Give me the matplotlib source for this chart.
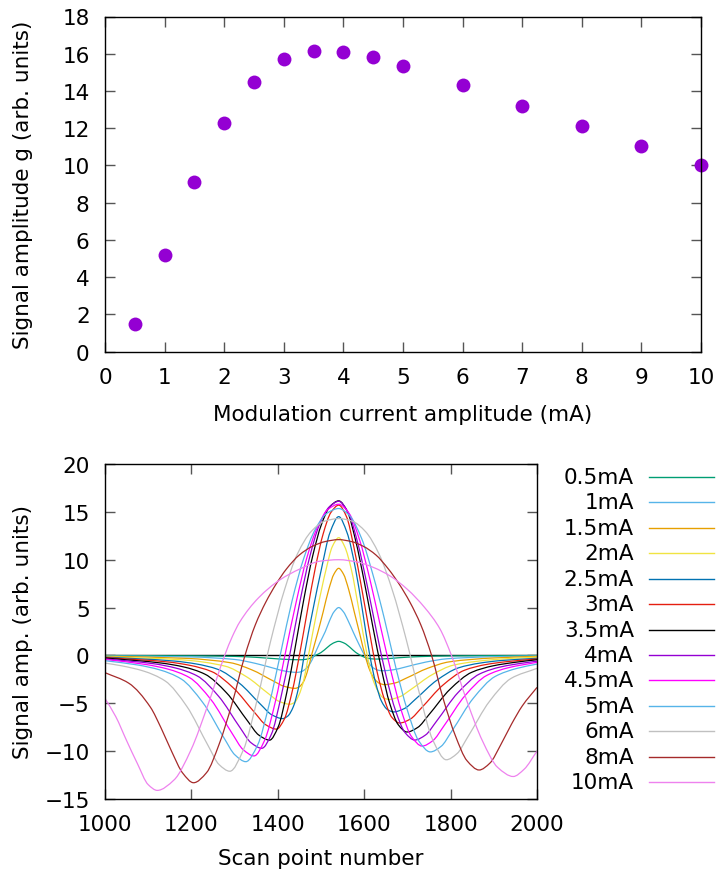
import matplotlib
matplotlib.use("Agg")
import matplotlib.pyplot as plt
from matplotlib.lines import Line2D
from matplotlib.path import Path
from matplotlib.patches import PathPatch

plt.rcParams['font.family'] = ['DejaVu Sans']

# ---------------- top panel data ----------------
mod_current = [0.5, 1, 1.5, 2, 2.5, 3, 3.5, 4, 4.5, 5, 6, 7, 8, 9, 10]
signal_g = [1.47, 5.2, 9.1, 12.3, 14.5, 15.7, 16.15, 16.1, 15.8, 15.35, 14.3, 13.2, 12.1, 11.05, 10.0]

# ---------------- bottom panel data ----------------
labels = ['0.5mA', '1mA', '1.5mA', '2mA', '2.5mA', '3mA', '3.5mA', '4mA',
          '4.5mA', '5mA', '6mA', '8mA', '10mA']
colors = ['#009e73', '#56b4e9', '#e69f00', '#f0e442', '#0072b2', '#e51e10',
          '#000000', '#9400d3', '#ff00ff', '#56b4e9', '#c0c0c0', '#a52a2a', '#ee82ee']

x_05 = [1000, 1200, 1300, 1350, 1400, 1430, 1453, 1461, 1470, 1478, 1487, 1500, 1515, 1528, 1541,
        1554, 1567, 1580, 1592, 1601, 1610, 1619, 1628, 1655, 1680, 1730, 1800, 1900, 2000]
y_05 = [-0.01, -0.04, -0.10, -0.20, -0.36, -0.43, -0.45, -0.43, -0.36, -0.23, 0.0, 0.30, 0.85, 1.28, 1.47,
        1.28, 0.85, 0.33, 0.0, -0.19, -0.31, -0.36, -0.38, -0.33, -0.24, -0.12, -0.05, -0.02, -0.01]

x_1 = [1000, 1200, 1300, 1350, 1394, 1419, 1444, 1454, 1464, 1474, 1484, 1497, 1510, 1520, 1530, 1541,
       1552, 1562, 1574, 1588, 1601, 1611, 1621, 1632, 1642, 1667, 1692, 1742, 1792, 1892, 2000]
y_1 = [-0.05, -0.16, -0.42, -0.85, -1.38, -1.66, -1.77, -1.70, -1.43, -0.90, 0.0, 1.30, 2.50, 3.65, 4.55, 5.0,
       4.55, 3.70, 2.50, 1.15, 0.0, -0.82, -1.30, -1.54, -1.60, -1.50, -1.25, -0.70, -0.35, -0.14, -0.05]

x_15 = [1000, 1190, 1290, 1340, 1390, 1415, 1440, 1449, 1459, 1468, 1478, 1492, 1505, 1518, 1530, 1541,
        1552, 1564, 1577, 1590, 1602, 1613, 1624, 1636, 1647, 1672, 1697, 1747, 1797, 1897, 2000]
y_15 = [-0.08, -0.31, -0.76, -1.51, -2.68, -3.23, -3.44, -3.30, -2.79, -1.75, 0.0, 2.30, 4.55, 6.90, 8.50, 9.10,
        8.50, 6.90, 4.55, 2.20, 0.0, -1.56, -2.47, -2.93, -3.05, -2.87, -2.38, -1.34, -0.67, -0.27, -0.10]

x_2 = [1000, 1178, 1278, 1328, 1378, 1403, 1428, 1439, 1449, 1460, 1471, 1491, 1512, 1526, 1541,
       1555, 1570, 1588, 1607, 1619, 1632, 1644, 1657, 1682, 1707, 1757, 1807, 1907, 2000]
y_2 = [-0.13, -0.46, -1.12, -2.24, -3.98, -4.80, -5.10, -4.90, -4.13, -2.60, 0.0, 4.70, 9.03, 11.35, 12.3,
       11.35, 9.03, 4.70, 0.0, -2.35, -3.73, -4.42, -4.60, -4.32, -3.59, -2.02, -1.01, -0.41, -0.17]

x_25 = [1000, 1161, 1211, 1261, 1311, 1361, 1386, 1411, 1423, 1436, 1448, 1461, 1481, 1501, 1521, 1541,
        1560, 1580, 1596, 1613, 1627, 1640, 1654, 1668, 1693, 1718, 1768, 1818, 1868, 1918, 2000]
y_25 = [-0.17, -0.59, -0.89, -1.45, -2.90, -5.15, -6.20, -6.60, -6.34, -5.35, -3.37, 0.0, 4.70, 9.03, 12.86, 14.5,
        12.86, 9.03, 4.70, 0.0, -2.95, -4.78, -5.66, -5.90, -5.55, -4.60, -2.60, -1.30, -0.80, -0.53, -0.30]

x_3 = [1000, 1147, 1197, 1247, 1297, 1347, 1372, 1397, 1415, 1433, 1451, 1469, 1487, 1505, 1523, 1541,
       1559, 1576, 1594, 1612, 1629, 1647, 1664, 1682, 1707, 1732, 1782, 1832, 1882, 1932, 2000]
y_3 = [-0.22, -0.69, -1.04, -1.69, -3.39, -6.00, -7.24, -7.70, -6.66, -3.83, 0.25, 4.82, 9.18, 12.70, 14.94, 15.7,
       14.50, 11.35, 7.06, 2.52, -1.55, -4.62, -6.47, -7.06, -6.64, -5.51, -3.11, -1.55, -0.95, -0.64, -0.37]

x_35 = [1000, 1131, 1181, 1231, 1281, 1331, 1356, 1381, 1401, 1421, 1441, 1461, 1481, 1501, 1521, 1541,
        1561, 1580, 1600, 1620, 1640, 1659, 1679, 1699, 1724, 1749, 1799, 1849, 1899, 1949, 2000]
y_35 = [-0.27, -0.80, -1.19, -1.95, -3.89, -6.90, -8.32, -8.85, -7.45, -3.83, 1.03, 6.05, 10.44, 13.68, 15.57, 16.15,
        15.04, 12.03, 7.75, 3.00, -1.46, -5.00, -7.25, -8.00, -7.52, -6.24, -3.52, -1.76, -1.08, -0.72, -0.45]

x_4 = [1000, 1113, 1163, 1213, 1263, 1313, 1338, 1363, 1385, 1407, 1430, 1452, 1474, 1496, 1519, 1541,
       1563, 1585, 1607, 1629, 1651, 1673, 1695, 1717, 1742, 1767, 1817, 1867, 1917, 1967, 2000]
y_4 = [-0.36, -0.87, -1.31, -2.13, -4.27, -7.57, -9.12, -9.70, -8.25, -4.42, 0.62, 5.81, 10.32, 13.62, 15.51, 16.1,
       14.93, 11.76, 7.30, 2.38, -2.20, -5.82, -8.09, -8.84, -8.31, -6.90, -3.89, -1.94, -1.19, -0.80, -0.60]

x_45 = [1000, 1095, 1145, 1195, 1245, 1295, 1320, 1345, 1369, 1394, 1418, 1443, 1467, 1492, 1516, 1541,
        1565, 1589, 1613, 1637, 1662, 1686, 1710, 1734, 1759, 1784, 1834, 1884, 1934, 2000]
y_45 = [-0.42, -0.95, -1.42, -2.30, -4.60, -8.20, -9.85, -10.5, -8.92, -4.90, 0.35, 5.67, 10.17, 13.42, 15.25, 15.8,
        14.84, 12.11, 7.99, 3.17, -1.66, -5.78, -8.51, -9.47, -8.90, -7.40, -4.17, -2.08, -1.28, -0.72]

x_5 = [1000, 1076, 1126, 1176, 1226, 1276, 1301, 1326, 1353, 1380, 1407, 1433, 1460, 1487, 1514, 1541,
       1567, 1594, 1620, 1647, 1673, 1700, 1726, 1753, 1778, 1803, 1853, 1903, 1953, 2000]
y_5 = [-0.55, -1.00, -1.50, -2.45, -4.90, -8.66, -10.4, -11.1, -9.39, -5.12, 0.33, 5.70, 10.13, 13.19, 14.86, 15.35,
       14.56, 12.22, 8.47, 3.78, -1.23, -5.73, -8.91, -10.08, -9.50, -7.90, -4.45, -2.20, -1.36, -0.90]

x_6 = [1000, 1039, 1089, 1139, 1189, 1239, 1264, 1289, 1320, 1352, 1383, 1415, 1446, 1478, 1509, 1541,
       1572, 1603, 1634, 1665, 1697, 1728, 1759, 1790, 1815, 1840, 1890, 1940, 2000]
y_6 = [-0.80, -1.09, -1.63, -2.66, -5.30, -9.45, -11.4, -12.1, -9.90, -4.67, 1.42, 6.78, 10.66, 12.98, 14.04, 14.3,
       14.03, 12.94, 10.63, 6.84, 1.72, -4.00, -8.86, -10.9, -10.25, -8.50, -4.80, -2.40, -1.35]

x_8 = [1000, 1055, 1105, 1130, 1155, 1180, 1205, 1235, 1264, 1294, 1324, 1348, 1372, 1396, 1420, 1450, 1480,
       1510, 1541, 1570, 1598, 1627, 1656, 1681, 1706, 1731, 1756, 1783, 1811, 1838, 1866, 1891, 1916,
       1941, 1966, 2000]
y_8 = [-1.80, -2.90, -5.40, -7.60, -10.1, -12.3, -13.3, -12.25, -9.30, -5.05, 0.0, 3.20, 5.55, 7.45, 9.03, 10.5, 11.4,
       11.9, 12.1, 11.9, 11.4, 10.5, 9.03, 7.45, 5.55, 3.20, 0.0, -4.55, -8.38, -11.0, -11.97, -11.25, -9.34,
       -7.18, -5.27, -3.34]

x_10 = [1000, 1025, 1050, 1075, 1100, 1121, 1160, 1199, 1238, 1277, 1295, 1312, 1355, 1405, 1451, 1498,
        1541, 1585, 1621, 1660, 1700, 1740, 1775, 1802, 1838, 1874, 1909, 1945, 1970, 2000]
y_10 = [-4.5, -6.4, -8.9, -11.3, -13.5, -14.1, -13.0, -9.87, -5.2, 0.0, 2.0, 3.5, 6.0, 7.9, 9.03, 9.85,
        10.0, 9.75, 9.2, 8.3, 6.9, 5.0, 2.8, 0.0, -4.8, -8.95, -11.7, -12.65, -11.9, -10.0]

curves_x = [x_05, x_1, x_15, x_2, x_25, x_3, x_35, x_4, x_45, x_5, x_6, x_8, x_10]
curves_y = [y_05, y_1, y_15, y_2, y_25, y_3, y_35, y_4, y_45, y_5, y_6, y_8, y_10]

top_xticks = list(range(0, 11))
top_yticks = list(range(0, 19, 2))
bot_xticks = [1000, 1200, 1400, 1600, 1800, 2000]
bot_yticks = [-15, -10, -5, 0, 5, 10, 15, 20]


def smooth_path(xs, ys):
    """Monotone (PCHIP-style) cubic Bezier path through the read points."""
    n = len(xs)
    h = [xs[i + 1] - xs[i] for i in range(n - 1)]
    d = [(ys[i + 1] - ys[i]) / h[i] for i in range(n - 1)]
    m = [0.0] * n
    m[0], m[-1] = d[0], d[-1]
    for i in range(1, n - 1):
        if d[i - 1] * d[i] <= 0:
            m[i] = 0.0
        else:
            w1 = 2 * h[i] + h[i - 1]
            w2 = h[i] + 2 * h[i - 1]
            m[i] = (w1 + w2) / (w1 / d[i - 1] + w2 / d[i])
    verts = [(xs[0], ys[0])]
    codes = [Path.MOVETO]
    for i in range(n - 1):
        verts += [(xs[i] + h[i] / 3, ys[i] + m[i] * h[i] / 3),
                  (xs[i + 1] - h[i] / 3, ys[i + 1] - m[i + 1] * h[i] / 3),
                  (xs[i + 1], ys[i + 1])]
        codes += [Path.CURVE4] * 3
    return Path(verts, codes)


# ---------------- figure ----------------
W, H = 718, 879
fig = plt.figure(figsize=(W / 100, H / 100), dpi=100)

FS = 15.5


def style(ax):
    for s in ax.spines.values():
        s.set_linewidth(1.0)
        s.set_color('black')
    ax.tick_params(direction='in', top=True, right=True, length=7, width=1,
                   labelsize=FS, pad=11, color='#555555')


ax1 = fig.add_axes([105 / W, 1 - 352.7 / H, (701 - 105) / W, (352.7 - 17.5) / H])
ax1.plot(mod_current, signal_g, 'o', color='#9400d3', ms=10, mec='none', clip_on=False)
ax1.set_xlim(0, 10)
ax1.set_ylim(0, 18)
ax1.set_xticks(top_xticks)
ax1.set_yticks(top_yticks)
style(ax1)
ax1.set_xlabel('Modulation current amplitude (mA)', fontsize=FS)
ax1.set_ylabel('Signal amplitude g (arb. units)', fontsize=FS)
ax1.xaxis.set_label_coords(0.5, -0.156)
ax1.yaxis.set_label_coords(-0.121, 0.5)

ax2 = fig.add_axes([105 / W, 1 - 800 / H, (537 - 105) / W, (800 - 465) / H])
ax2.axhline(0, color='black', lw=1.0, zorder=1)
for xs, ys, col in zip(curves_x, curves_y, colors):
    ax2.add_patch(PathPatch(smooth_path(xs, ys), fill=False, edgecolor=col,
                            lw=0.9, zorder=2, transform=ax2.transData))
ax2.set_xlim(1000, 2000)
ax2.set_ylim(-15, 20)
ax2.set_xticks(bot_xticks)
ax2.set_yticks(bot_yticks)
style(ax2)
ax2.set_xlabel('Scan point number', fontsize=FS)
ax2.set_ylabel('Signal amp. (arb. units)', fontsize=FS)
ax2.xaxis.set_label_coords(0.5, -0.146)
ax2.yaxis.set_label_coords(-0.1667, 0.5)

# gnuplot-style key at the right
row0, dy = 477.7, 25.47
for i, (lab, col) in enumerate(zip(labels, colors)):
    yy = 1 - (row0 + i * dy) / H
    fig.text(634 / W, yy, lab, ha='right', va='center', fontsize=FS)
    fig.add_artist(Line2D([649 / W, 714 / W], [yy, yy], color=col, lw=1.0,
                          transform=fig.transFigure))

fig.savefig('out.png', dpi=100)
